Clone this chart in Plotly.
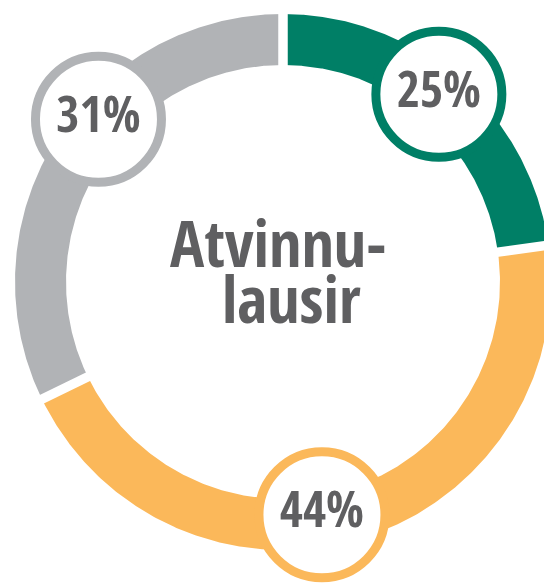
import numpy as np
import plotly.graph_objects as go

# ---- data ----
categories = ["Green", "Yellow", "Gray"]
arc_share = [22.8, 45.0, 32.2]          # share of the ring drawn for each slice (%)
label_text = ["25%", "44%", "31%"]      # printed labels
center_lines = ["Atvinnu-", "lausir"]

# ---- styles / layout ----
colors = ["#007F66", "#FBB85A", "#B1B3B6"]
text_color = "#5F5F61"
W, H = 544, 583
R_OUT, R_IN = 268, 217
GAP = 9.5
label_angle = [39.7, 170.5, 311.4]      # deg, clockwise from top
label_radius = [244, 236, 246]
FONT = "Open Sans Condensed, Roboto Condensed, DejaVu Sans Condensed, sans-serif"


def pt(r, deg):
    t = np.deg2rad(deg)
    return r * np.sin(t), r * np.cos(t)


fig = go.Figure()

total = sum(arc_share)
start = 0.0
bounds = []
for share, col in zip(arc_share, colors):
    span = 360.0 * share / total
    a = np.linspace(start, start + span, 300)
    xo, yo = pt(R_OUT, a)
    xi, yi = pt(R_IN, a[::-1])
    fig.add_trace(go.Scatter(
        x=np.concatenate([xo, xi, xo[:1]]), y=np.concatenate([yo, yi, yo[:1]]),
        mode="lines", fill="toself", fillcolor=col, line=dict(width=0, color=col),
        hoverinfo="skip", showlegend=False))
    bounds.append(start)
    start += span

# white gaps between slices
for b in bounds:
    x0, y0 = pt(R_IN - 15, b)
    x1, y1 = pt(R_OUT + 15, b)
    fig.add_trace(go.Scatter(x=[x0, x1], y=[y0, y1], mode="lines",
                             line=dict(color="white", width=GAP),
                             hoverinfo="skip", showlegend=False))

# label badges
for txt, col, ang, rad in zip(label_text, colors, label_angle, label_radius):
    x, y = pt(rad, ang)
    fig.add_trace(go.Scatter(
        x=[x], y=[y], mode="markers+text", text=[txt], textposition="middle center",
        textfont=dict(family=FONT, size=50, color=text_color, weight=700),
        marker=dict(size=126, color="white", line=dict(color=col, width=9)),
        hoverinfo="skip", showlegend=False))

# center text
fig.add_annotation(x=-5, y=40, text=center_lines[0], showarrow=False,
                   xanchor="center", yanchor="middle",
                   font=dict(family=FONT, size=64, color=text_color, weight=700))
fig.add_annotation(x=8, y=-16, text=center_lines[1], showarrow=False,
                   xanchor="center", yanchor="middle",
                   font=dict(family=FONT, size=64, color=text_color, weight=700))

fig.update_layout(
    width=W, height=H, margin=dict(l=0, r=0, t=0, b=0),
    paper_bgcolor="white", plot_bgcolor="white",
    xaxis=dict(range=[-283, W - 283], visible=False, fixedrange=True),
    yaxis=dict(range=[-(H - 282), 282], visible=False, fixedrange=True),
    showlegend=False,
)
fig.write_html("out.html", config={"displayModeBar": False},
               post_script="document.body.style.margin='0';")
